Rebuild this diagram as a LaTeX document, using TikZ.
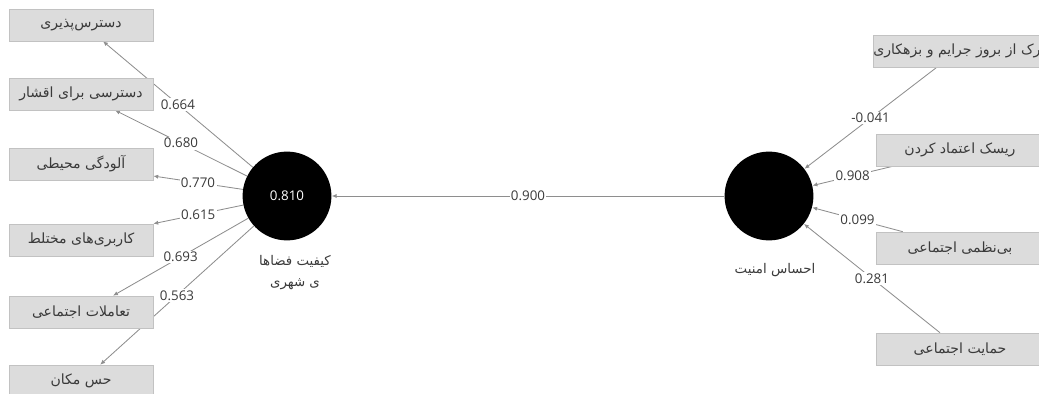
\documentclass[tikz,border=0pt]{standalone}
\usepackage{fontspec}
\setmainfont{Open Sans}
\newfontfamily\fafont[Script=Arabic]{DejaVu Sans}
\TeXXeTstate=1
\usetikzlibrary{arrows.meta, positioning, backgrounds}
\definecolor{boxcolor}{HTML}{DCDCDC}
\definecolor{boxline}{HTML}{C2C2C2}
\definecolor{linkcolor}{HTML}{8E8E8E}
\definecolor{txtcolor}{HTML}{3A3A3A}
\newcommand{\fatxt}[1]{{\fafont\beginR #1\endR}}

\begin{document}
\begin{tikzpicture}[x=0.025cm, y=-0.025cm,
    ind/.style={draw=boxline, fill=boxcolor, minimum width=3.6cm, minimum height=0.8cm,
                inner sep=0pt, font=\fontsize{10}{12}\selectfont, text=txtcolor},
    indr/.style={ind, minimum width=4.2cm},
    lv/.style={circle, fill=black, minimum size=2.22cm, inner sep=0pt, text=white,
               font=\fontsize{9.5}{11}\selectfont},
    lvname/.style={align=center, font=\fontsize{9.5}{15}\selectfont, text=txtcolor},
    link/.style={draw=linkcolor, line width=0.6pt, -{Latex[length=3.5pt,width=3pt]}},
    lbl/.style={fill=white, inner sep=1pt, pos=0.5, font=\fontsize{9.5}{11}\selectfont,
                text=txtcolor}
]
    \useasboundingbox (0,0) rectangle (1039,394);

    % latent variables
    \node[lv] (lc) at (287,196) {0.810};
    \node[lv] (rc) at (769,196) {};
    \node[lvname, below=0.25cm of lc, xshift=0.2cm] (lcname)
        {\fatxt{کیفیت فضاها}\\\fatxt{ی شهری}};
    \node[lvname, below=0.45cm of rc, xshift=0.15cm] (rcname) {\fatxt{احساس امنیت}};

    % indicators, left
    \node[ind] (b1) at (81,25)  {\fatxt{دسترس‌پذیری}};
    \node[ind] (b2) at (81,94)  {\fatxt{دسترسی برای اقشار}};
    \node[ind] (b3) at (81,164) {\fatxt{آلودگی محیطی}};
    \node[ind] (b4) at (81,240) {\fatxt{کاربری‌های مختلط}};
    \node[ind] (b5) at (81,312) {\fatxt{تعاملات اجتماعی}};
    \node[ind] (b6) at (81,381) {\fatxt{حس مکان}};

    % indicators, right
    \node[indr] (r1) at (960,51)  {\fatxt{درک از بروز جرایم و بزهکاری}};
    \node[indr] (r2) at (960,150) {\fatxt{ریسک اعتماد کردن}};
    \node[indr] (r3) at (960,248) {\fatxt{بی‌نظمی اجتماعی}};
    \node[indr] (r4) at (960,349) {\fatxt{حمایت اجتماعی}};

    \begin{scope}[on background layer]
        \draw[link] (lc) -- node[lbl] {0.664} ([xshift=0.55cm]b1.south);
        \draw[link] (lc) -- node[lbl] {0.680} ([xshift=0.85cm]b2.south);
        \draw[link] (lc) -- node[lbl] {0.770} ([yshift=-0.3cm]b3.east);
        \draw[link] (lc) -- node[lbl] {0.615} (b4.north east);
        \draw[link] (lc) -- node[lbl] {0.693} ([xshift=0.8cm]b5.north);
        \draw[link] (lc) -- node[lbl] {0.563} ([xshift=0.48cm]b6.north);

        \draw[link] ([xshift=-0.58cm]r1.south) -- node[lbl] {-0.041} (rc);
        \draw[link] ([xshift=-1.68cm]r2.south) -- node[lbl] {0.908} (rc);
        \draw[link] ([xshift=-1.43cm]r3.north) -- node[lbl] {0.099} (rc);
        \draw[link] ([xshift=-0.5cm]r4.north) -- node[lbl] {0.281} (rc);

        \draw[link] (rc) -- node[lbl] {0.900} (lc);
    \end{scope}
\end{tikzpicture}
\end{document}
